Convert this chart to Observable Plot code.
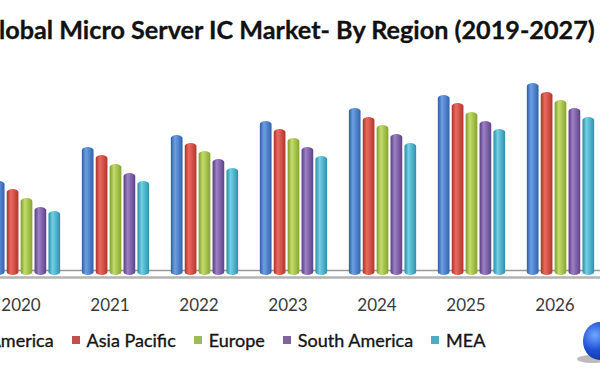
<!DOCTYPE html>
<html>
<head>
<meta charset="utf-8">
<script src="https://cdn.jsdelivr.net/npm/d3@7"></script>
<script src="https://cdn.jsdelivr.net/npm/@observablehq/plot@0.6"></script>
<style>
  html, body { margin: 0; padding: 0; background: #fff; }
  #page { position: relative; width: 600px; height: 380px; overflow: hidden; background: #fff; }
  #title { position: absolute; top: 14px; left: 0; white-space: nowrap; font-family: Lato, "Open Sans", sans-serif; font-weight: 700; font-size: 23px; color: #111; -webkit-text-stroke: 0.3px #111; }
  #chart { position: absolute; top: 60px; left: 0; }
  #legend { position: absolute; top: 329px; left: 0; display: flex; gap: 18px; white-space: nowrap; font-family: Lato, "Open Sans", sans-serif; font-size: 18px; color: #151515; -webkit-text-stroke: 0.35px #151515; }
  #legend .item { display: flex; align-items: center; gap: 7px; }
  #legend .sw { width: 8px; height: 8px; display: inline-block; }
  #logo { position: absolute; left: 583px; top: 322px; width: 34px; height: 38px; border-radius: 50%;
          background: radial-gradient(circle at 35% 35%, #6fa8ff 0%, #1f4fd8 45%, #0a2a8a 100%); }
  #logoShadow { position: absolute; left: 577px; top: 355px; width: 30px; height: 8px; border-radius: 50%; background: rgba(120,120,120,0.5); }
</style>
</head>
<body>
<div id="page">
  <div id="title"><span id="tG">G</span><span id="tRest">lobal Micro Server IC Market- By Region (2019-2027)</span></div>
  <div id="chart"></div>
  <div id="legend"></div>
  <div id="logoShadow"></div>
  <div id="logo"></div>
</div>
<script>
// ---- data ----
const years = ["2019", "2020", "2021", "2022", "2023", "2024", "2025", "2026", "2027"];
const shownYears = ["2020", "2021", "2022", "2023", "2024", "2025", "2026"];
const regions = ["North America", "Asia Pacific", "Europe", "South America", "MEA"];
const northAmerica = [94, 128, 140, 154, 167, 180, 192];
const asiaPacific  = [86, 120, 132, 146, 158, 172, 183];
const europe       = [77, 111, 124, 137, 150, 163, 175];
const southAmerica = [68, 102, 116, 128, 141, 154, 167];
const mea          = [64,  94, 107, 119, 132, 146, 158];
const seriesValues = [northAmerica, asiaPacific, europe, southAmerica, mea];

// ---- styles ----
const barColors = [
  ["#2b5ea8", "#6d9fe4", "#2f62ae"],
  ["#a8322b", "#ec6a5f", "#b0352d"],
  ["#7d9b27", "#c2dd6d", "#86a52c"],
  ["#573c82", "#9d80c6", "#5e4288"],
  ["#2a8ba5", "#72d0e6", "#2d91ab"]
];
const legendColors = ["#4f81bd", "#c0504d", "#9bbb59", "#8064a2", "#4bacc6"];

const table = [];
regions.forEach((r, i) => shownYears.forEach((y, j) => table.push({region: r, ri: i, year: y, value: seriesValues[i][j]})));

const step = 89.8;
const c2019 = 24.5 - step;
const c2027 = c2019 + 8 * step;
const barW = 12.5, pitch = 13.9;
const inset = (step - barW) / 2;

const marks = [
  Plot.ruleY([0], {dy: -5, stroke: "#9a9a9a", strokeWidth: 1.5}),
  ...regions.map((r, i) => Plot.barY(table.filter(d => d.region === r), {
    x: "year", y: "value", fill: `url(#grad${i})`,
    dx: (i - 2) * pitch, insetLeft: inset, insetRight: inset, rx: 6, ry: 3
  })),
  Plot.ruleY([0], {dy: 2, stroke: "#b3b3b3", strokeWidth: 2.5}),
  Plot.text(shownYears, {x: d => d, y: () => 0, text: d => d, dy: 30, dx: -6,
    fill: "#3a3a3a", fontSize: 17, fontFamily: "Lato, 'Open Sans', sans-serif"})
];

const svg = Plot.plot({
  width: 600, height: 260,
  marginTop: 0, marginBottom: 0, marginLeft: 0, marginRight: 0,
  x: {type: "band", domain: years, range: [c2019 - step / 2, c2027 + step / 2], padding: 0, axis: null},
  y: {domain: [0, 200], range: [215, 15], axis: null},
  style: {background: "transparent", overflow: "hidden"},
  marks
});

const defs = d3.select(svg).insert("defs", ":first-child");
barColors.forEach((c, i) => {
  const g = defs.append("linearGradient").attr("id", `grad${i}`).attr("x1", "0").attr("x2", "1").attr("y1", "0").attr("y2", "0");
  g.append("stop").attr("offset", "0%").attr("stop-color", c[0]);
  g.append("stop").attr("offset", "35%").attr("stop-color", c[1]);
  g.append("stop").attr("offset", "100%").attr("stop-color", c[2]);
});
document.getElementById("chart").appendChild(svg);

// ---- legend ----
const legend = document.getElementById("legend");
regions.forEach((r, i) => {
  const it = document.createElement("span");
  it.className = "item";
  it.innerHTML = `<span class="sw" style="background:${legendColors[i]}"></span><span>${r}</span>`;
  legend.appendChild(it);
});
const items = legend.querySelectorAll(".item");
legend.style.left = (72 - items[1].offsetLeft) + "px";

// ---- title placement: "G" falls off the left edge, as in the reference ----
const tG = document.getElementById("tG"), tRest = document.getElementById("tRest");
const title = document.getElementById("title");
const fs = 23 * 596 / tRest.getBoundingClientRect().width;
title.style.fontSize = fs + "px";
title.style.left = (-1 - tG.getBoundingClientRect().width) + "px";
</script>
</body>
</html>
